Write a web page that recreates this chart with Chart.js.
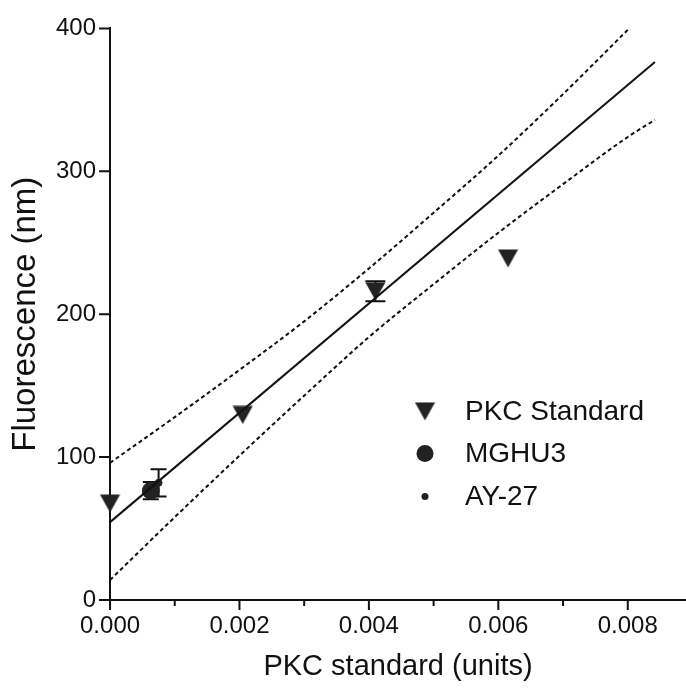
<!DOCTYPE html>
<html>
<head>
<meta charset="utf-8">
<title>PKC standard curve</title>
<script src="https://cdn.jsdelivr.net/npm/chart.js@4"></script>
<style>
body { margin: 0; background: #fff; }
</style>
</head>
<body>
<canvas id="chart" width="686" height="694"></canvas>
<script>
// PKC standard points (mean, with error where visible)
const pkcX = [0, 0.00205, 0.0041, 0.00615];
const pkcY = [67.5, 129.5, 216, 239];
const pkcErr = [0, 0, 7, 0];

// cell lines
const mghuX = [0.00063];
const mghuY = [76.5];
const mghuErr = [6];

const ayX = [0.00075];
const ayY = [82];
const ayErr = [9.5];

// regression line and 95% band
const fitX = [0, 0.00842];
const fitY = [54.5, 376.5];
const upperX = [0, 0.001, 0.002, 0.003, 0.004, 0.005, 0.006, 0.007, 0.008];
const upperY = [96, 128, 161, 195, 232, 271, 311, 354, 399];
const lowerX = [0, 0.001, 0.002, 0.003, 0.004, 0.005, 0.006, 0.007, 0.008, 0.00842];
const lowerY = [14, 58, 101, 143, 184, 221, 257, 291, 324, 336];

// axis ticks
const xTicks = [0, 0.001, 0.002, 0.003, 0.004, 0.005, 0.006, 0.007, 0.008];
const yTicks = [0, 100, 200, 300, 400];

const FONT = "'Liberation Sans', Arial, sans-serif";
const INK = '#111';
const MARK = '#222';

const pts = (xs, ys) => xs.map((x, i) => ({ x, y: ys[i] }));
const isMajor = v => Math.round(v * 1000) % 2 === 0;

// downward triangle centred on its box, like the original symbol
const tri = document.createElement('canvas');
tri.width = 21;
tri.height = 19;
(() => {
  const c = tri.getContext('2d');
  c.fillStyle = MARK;
  c.beginPath();
  c.moveTo(0.5, 0.5);
  c.lineTo(20.5, 0.5);
  c.lineTo(10.5, 18.5);
  c.closePath();
  c.fill();
})();

// vertical error bars with caps, drawn under the markers
const errorBars = {
  id: 'errorBars',
  beforeDatasetsDraw(chart) {
    const { ctx, scales: { x, y } } = chart;
    ctx.save();
    ctx.strokeStyle = INK;
    ctx.lineWidth = 2;
    chart.data.datasets.forEach(ds => {
      if (!ds.err) return;
      ds.data.forEach((p, i) => {
        const e = ds.err[i];
        if (!e) return;
        const px = x.getPixelForValue(p.x);
        const top = y.getPixelForValue(p.y + e);
        const bot = y.getPixelForValue(p.y - e);
        const cw = ds.capWidth;
        ctx.beginPath();
        ctx.moveTo(px, top); ctx.lineTo(px, bot);
        ctx.moveTo(px - cw, top); ctx.lineTo(px + cw, top);
        ctx.moveTo(px - cw, bot); ctx.lineTo(px + cw, bot);
        ctx.stroke();
      });
    });
    ctx.restore();
  }
};

// outward tick marks, long on labelled ticks
const tickMarks = {
  id: 'tickMarks',
  afterDraw(chart) {
    const { ctx, scales: { x, y }, chartArea } = chart;
    ctx.save();
    ctx.strokeStyle = INK;
    ctx.lineWidth = 2;
    ctx.beginPath();
    xTicks.forEach(v => {
      const px = x.getPixelForValue(v);
      ctx.moveTo(px, chartArea.bottom);
      ctx.lineTo(px, chartArea.bottom + (isMajor(v) ? 10 : 6));
    });
    yTicks.forEach(v => {
      const py = y.getPixelForValue(v);
      ctx.moveTo(chartArea.left - 11, py);
      ctx.lineTo(chartArea.left, py);
    });
    ctx.stroke();
    ctx.restore();
  }
};

// legend sitting inside the plot, lower right
const insideLegend = {
  id: 'insideLegend',
  afterDraw(chart) {
    const { ctx, chartArea } = chart;
    const mx = chartArea.right - 261;
    const tx = chartArea.right - 221;
    const rows = [
      { text: 'PKC Standard', r: 0, dy: 383 },
      { text: 'MGHU3', r: 8.5, dy: 425 },
      { text: 'AY-27', r: 3.5, dy: 468 }
    ];
    ctx.save();
    ctx.font = '28px ' + FONT;
    ctx.textBaseline = 'middle';
    rows.forEach(r => {
      const cy = chartArea.top + r.dy;
      if (r.r) {
        ctx.fillStyle = MARK;
        ctx.beginPath();
        ctx.arc(mx, cy, r.r, 0, Math.PI * 2);
        ctx.fill();
      } else {
        ctx.drawImage(tri, mx - tri.width / 2, cy - tri.height / 2);
      }
      ctx.fillStyle = INK;
      ctx.fillText(r.text, tx, cy + 1);
    });
    ctx.restore();
  }
};

new Chart(document.getElementById('chart'), {
  type: 'scatter',
  data: {
    datasets: [
      {
        label: 'upper', data: pts(upperX, upperY), showLine: true,
        borderColor: INK, borderWidth: 2, borderDash: [4, 3],
        pointRadius: 0, cubicInterpolationMode: 'monotone', clip: false
      },
      {
        label: 'lower', data: pts(lowerX, lowerY), showLine: true,
        borderColor: INK, borderWidth: 2, borderDash: [4, 3],
        pointRadius: 0, cubicInterpolationMode: 'monotone', clip: false
      },
      {
        label: 'fit', data: pts(fitX, fitY), showLine: true,
        borderColor: INK, borderWidth: 2, pointRadius: 0, clip: false
      },
      {
        label: 'PKC Standard', data: pts(pkcX, pkcY), err: pkcErr, capWidth: 10,
        pointStyle: tri, pointRadius: 10, clip: false
      },
      {
        label: 'MGHU3', data: pts(mghuX, mghuY), err: mghuErr, capWidth: 8,
        pointStyle: 'circle', pointRadius: 8.5,
        backgroundColor: MARK, borderColor: MARK, borderWidth: 1, clip: false
      },
      {
        label: 'AY-27', data: pts(ayX, ayY), err: ayErr, capWidth: 8,
        pointStyle: 'circle', pointRadius: 3.5,
        backgroundColor: MARK, borderColor: MARK, borderWidth: 1, clip: false
      }
    ]
  },
  options: {
    responsive: false,
    animation: false,
    devicePixelRatio: 1,
    layout: { autoPadding: false, padding: { top: 14, right: 0, left: 0, bottom: 13 } },
    plugins: {
      legend: { display: false },
      tooltip: { enabled: false }
    },
    scales: {
      x: {
        type: 'linear',
        min: 0,
        max: 0.0089,
        afterBuildTicks: s => { s.ticks = xTicks.map(v => ({ value: v })); },
        ticks: {
          autoSkip: false,
          maxRotation: 0,
          padding: 14,
          color: INK,
          font: { family: FONT, size: 24, lineHeight: 1 },
          callback: v => (isMajor(v) ? v.toFixed(3) : '')
        },
        grid: { drawOnChartArea: false, drawTicks: false },
        border: { color: INK, width: 2 },
        title: {
          display: true,
          text: 'PKC standard (units)',
          color: INK,
          font: { family: FONT, size: 29, lineHeight: 1 },
          padding: { top: 0, bottom: 0 }
        }
      },
      y: {
        min: 0,
        max: 400,
        afterBuildTicks: s => { s.ticks = yTicks.map(v => ({ value: v })); },
        ticks: {
          padding: 14,
          color: INK,
          font: { family: FONT, size: 24 }
        },
        grid: { drawOnChartArea: false, drawTicks: false },
        border: { color: INK, width: 2 },
        title: {
          display: true,
          text: 'Fluorescence (nm)',
          color: INK,
          font: { family: FONT, size: 33, lineHeight: 1 },
          padding: { top: 9, bottom: 0 }
        }
      }
    }
  },
  plugins: [errorBars, tickMarks, insideLegend]
});
</script>
</body>
</html>
